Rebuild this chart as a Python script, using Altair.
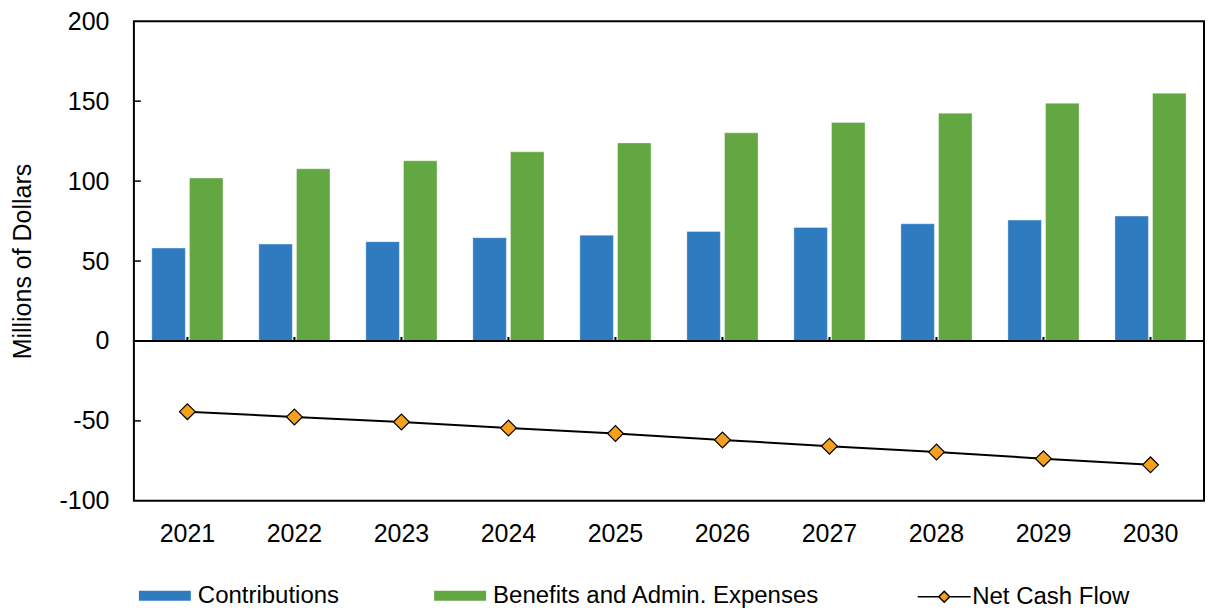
import altair as alt
import pandas as pd

years = ["2021", "2022", "2023", "2024", "2025", "2026", "2027", "2028", "2029", "2030"]
contributions = [58.1, 60.6, 62.1, 64.6, 66.2, 68.5, 71.0, 73.3, 75.6, 78.1]
benefits = [101.9, 107.7, 112.7, 118.3, 123.9, 130.2, 136.6, 142.5, 148.7, 155.0]
net_cash_flow = [-44.2, -47.5, -50.7, -54.5, -57.9, -61.9, -65.8, -69.5, -73.6, -77.5]
bar_series = ["Contributions", "Benefits and Admin. Expenses"]
line_series = "Net Cash Flow"
y_tick_values = [-100, -50, 0, 50, 100, 150, 200]
inner_ticks = [-50, 50, 100, 150]

BLUE = "#2E7BC0"
GREEN = "#63A742"
ORANGE = "#F5A01E"
FONT = "Liberation Sans"

bar_df = pd.DataFrame(
    {
        "year": years * 2,
        "series": [bar_series[0]] * len(years) + [bar_series[1]] * len(years),
        "value": contributions + benefits,
    }
)
net_df = pd.DataFrame({"year": years, "value": net_cash_flow, "series": [line_series] * len(years)})
zero_df = pd.DataFrame({"value": [0]})
zero_tick_df = pd.DataFrame({"year": years, "value": [0] * len(years), "value2": [2.5] * len(years)})
ytick_df = pd.DataFrame({"value": inner_ticks})

x_enc = alt.X(
    "year:N",
    sort=years,
    scale=alt.Scale(paddingInner=0.335, paddingOuter=0.1675),
    axis=alt.Axis(
        title=None,
        labelAngle=0,
        domain=False,
        ticks=False,
        labelPadding=21,
        labelFontSize=25,
        labelFont=FONT,
        labelColor="black",
    ),
)
y_enc = alt.Y(
    "value:Q",
    scale=alt.Scale(domain=[-100, 200], nice=False, zero=False),
    axis=alt.Axis(
        values=y_tick_values,
        labelExpr="toString(datum.value)",
        title="Millions of Dollars",
        grid=False,
        domain=False,
        ticks=False,
        labelPadding=25,
        labelFontSize=25,
        labelFont=FONT,
        labelColor="black",
        titleFontSize=25,
        titleFont=FONT,
        titleFontWeight="normal",
        titleColor="black",
        titlePadding=23,
    ),
)

rect_path = "M-2,-0.38L2,-0.38L2,0.38L-2,0.38Z"
net_path = "M-2.04,0L-0.42,0M0.42,0L2.04,0M0,-0.42L0.42,0L0,0.42L-0.42,0Z"

bars = alt.Chart(bar_df).mark_bar(stroke="white", strokeOpacity=0.35, strokeWidth=1).encode(
    x=x_enc,
    xOffset=alt.XOffset("series:N", sort=bar_series, scale=alt.Scale(paddingInner=0.11, paddingOuter=0)),
    y=y_enc,
    color=alt.Color(
        "series:N",
        sort=bar_series,
        scale=alt.Scale(domain=bar_series, range=[BLUE, GREEN]),
        legend=alt.Legend(
            title=None,
            orient="none",
            legendX=18,
            legendY=562,
            direction="horizontal",
            symbolType=rect_path,
            symbolSize=676,
            symbolStrokeWidth=0,
            labelFontSize=24,
            labelFont=FONT,
            labelColor="black",
            labelOffset=20,
            labelLimit=0,
            columnPadding=94.5,
            padding=0,
        ),
    ),
)

line = alt.Chart(net_df).mark_line(color="black", strokeWidth=2).encode(x=x_enc, y=y_enc)

points = alt.Chart(net_df).mark_point(
    filled=True, shape="diamond", size=250, color=ORANGE, stroke="black", strokeWidth=1.2, opacity=1
).encode(x=x_enc, y=y_enc)

legend_net = (
    alt.Chart(net_df)
    .transform_filter("false")
    .mark_point(
        filled=True, shape=net_path, size=676, fill=ORANGE, stroke="black", strokeWidth=1.5
    )
    .encode(
        x=x_enc,
        y=y_enc,
        opacity=alt.Opacity(
            "series:N",
            scale=alt.Scale(domain=[line_series], range=[1]),
            legend=alt.Legend(
                title=None,
                orient="none",
                legendX=797,
                legendY=562,
                symbolType=net_path,
                symbolSize=676,
                symbolStrokeWidth=1.5,
                symbolOpacity=1,
                labelFontSize=24,
                labelFont=FONT,
                labelColor="black",
                labelOffset=14,
                labelLimit=0,
                padding=0,
            ),
        ),
    )
)

zero_rule = alt.Chart(zero_df).mark_rule(color="black", strokeWidth=2).encode(y=y_enc)

zero_ticks = alt.Chart(zero_tick_df).mark_rule(color="black", strokeWidth=2).encode(
    x=x_enc, y=y_enc, y2="value2:Q"
)

y_ticks = alt.Chart(ytick_df).mark_rule(color="black", strokeWidth=1.5).encode(
    y=y_enc, x=alt.value(0), x2=alt.value(7)
)

chart = (
    alt.layer(bars, line, points, legend_net, zero_rule, zero_ticks, y_ticks)
    .properties(width=1071, height=480, padding={"left": 2, "top": 1, "right": 0, "bottom": 0})
    .configure_view(stroke="black", strokeWidth=2)
)

chart.save("out.html", embed_options={"renderer": "svg", "actions": False})
